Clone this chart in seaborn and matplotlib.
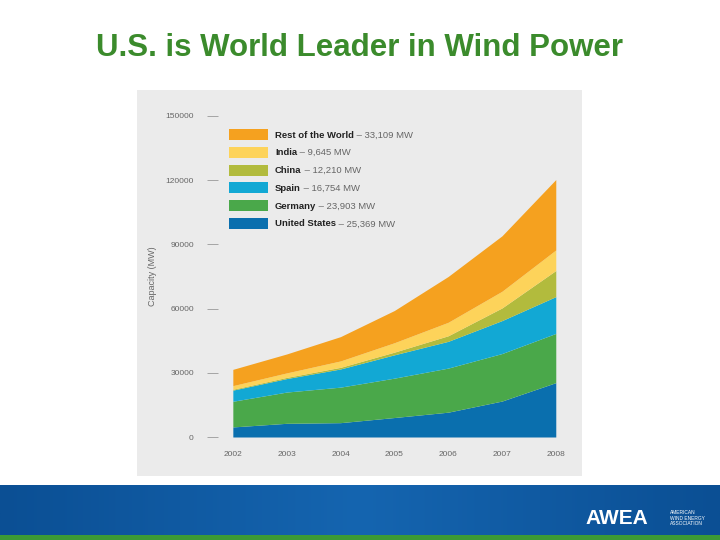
import matplotlib
matplotlib.use('Agg')
import matplotlib.pyplot as plt
from matplotlib.patches import Rectangle
import numpy as np
import seaborn as sns

years = [2002, 2003, 2004, 2005, 2006, 2007, 2008]
united_states = [4700, 6400, 6700, 9100, 11600, 16800, 25400]
germany = [12000, 14600, 16600, 18400, 20600, 22200, 23000]
spain = [5200, 6300, 8500, 10900, 12500, 15400, 17200]
china = [400, 550, 750, 1250, 2600, 5900, 12200]
india = [1700, 2100, 3000, 4400, 6300, 7800, 9600]
rest_world = [7600, 8850, 11350, 15050, 21400, 25900, 32900]

names = ['Rest of the World', 'India', 'China', 'Spain', 'Germany', 'United States']
values = ['33,109 MW', '9,645 MW', '12,210 MW', '16,754 MW', '23,903 MW', '25,369 MW']
colors = ['#f5a11f', '#fdd35a', '#b2bb3d', '#12a8d4', '#4aa84a', '#0a6fae']

sns.set_style('white')
plt.rcParams['font.family'] = ['Liberation Sans', 'DejaVu Sans']

fig = plt.figure(figsize=(7.2, 5.4), dpi=100)
fig.patch.set_facecolor('white')

# grey panel as a background axes
pax = fig.add_axes([137 / 720, 1 - 476 / 540, 445 / 720, 386 / 540], zorder=-5)
pax.set_facecolor('#ebebeb')
pax.set_xticks([]); pax.set_yticks([])
for s in pax.spines.values():
    s.set_visible(False)

# bottom banner
grad = np.linspace(0, 1, 256).reshape(1, -1)
bax = fig.add_axes([0, 5 / 540, 1, 50 / 540])
bax.imshow(grad, aspect='auto', cmap=matplotlib.colors.LinearSegmentedColormap.from_list(
    'b', ['#0b4f94', '#1565b0', '#0b4f94']))
bax.axis('off')
gax = fig.add_axes([0, 0, 1, 5 / 540])
gax.set_facecolor('#3c9a35')
gax.set_xticks([]); gax.set_yticks([])
for s in gax.spines.values():
    s.set_visible(False)
fig.text(585 / 720, 1 - 518 / 540, 'AWEA', color='white', fontsize=15,
         fontweight='bold', va='center')
fig.text(670 / 720, 1 - 518 / 540, 'AMERICAN\nWIND ENERGY\nASSOCIATION', color='white',
         fontsize=3.5, va='center', linespacing=1.1)

fig.text(0.5, 1 - 48 / 540, 'U.S. is World Leader in Wind Power', ha='center',
         va='center', fontsize=22.5, fontweight='bold', color='#3b8b2c')

ax = fig.add_axes([207 / 720, 1 - 437 / 540, 366 / 720, 321 / 540])
ax.patch.set_alpha(0)
ax.stackplot(years, united_states, germany, spain, china, india, rest_world,
             colors=colors[::-1], linewidth=0)
ax.set_xlim(2001.52, 2008.32)
ax.set_ylim(0, 150000)
ax.set_yticks([0, 30000, 60000, 90000, 120000, 150000])
ax.set_yticklabels(['0', '30000', '60000', '90000', '120000', '150000'])
ax.set_xticks(years)
ax.tick_params(axis='y', left=True, direction='in', length=8, color='#999999',
               labelsize=6, labelcolor='#666666', pad=9.5, width=0.6)
ax.tick_params(axis='x', length=0, labelsize=6, labelcolor='#666666', pad=10)
for s in ax.spines.values():
    s.set_visible(False)
ax.axhline(0, color='#cccccc', linewidth=0.6, zorder=0)
ax.set_ylabel('Capacity (MW)', fontsize=6.5, color='#666666', labelpad=6)

# legend
for i, (n, v, c) in enumerate(zip(names, values, colors)):
    y = 1 - (135 + 17.8 * i - 116) / 321
    ax.add_patch(Rectangle((22 / 366, y - 5 / 321), 39 / 366, 11 / 321,
                           transform=ax.transAxes, facecolor=c, edgecolor='none'))
    t = ax.text(68 / 366, y, n, transform=ax.transAxes, fontsize=6.8,
                fontweight='bold', color='#222222', va='center')
    ax.annotate(' \u2013 ' + v, xy=(1, 0.5), xycoords=t, va='center',
                fontsize=6.8, color='#666666')

fig.savefig('out.png', dpi=100)
